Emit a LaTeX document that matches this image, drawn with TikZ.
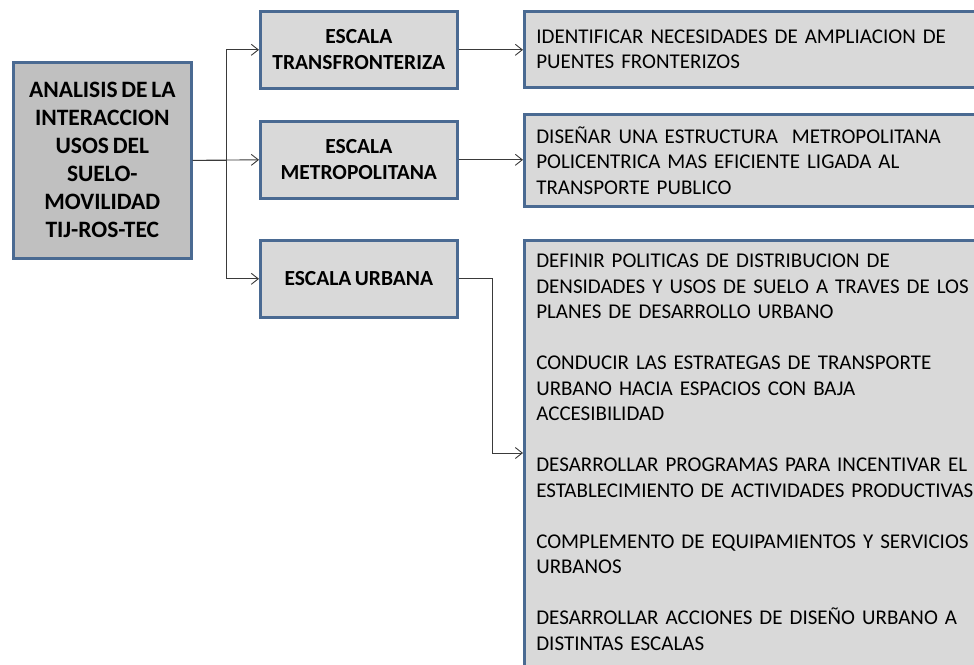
\documentclass[tikz,border=0pt]{standalone}
\usepackage{fontspec}
\setmainfont{Carlito}[WordSpace=0.7]
\usetikzlibrary{arrows.meta,positioning}
\definecolor{frame}{HTML}{4A6A92}
\definecolor{lightgray}{HTML}{D9D9D9}
\definecolor{midgray}{HTML}{C0C0C0}
\definecolor{wire}{HTML}{3A3A3A}
\tikzset{
  box/.style={draw=frame, line width=2.6pt, inner sep=0pt, anchor=north west},
  main/.style={box, fill=midgray, align=center, font=\bfseries\fontsize{23.5}{28}\selectfont, minimum width=178pt, minimum height=196pt},
  levelbox/.style={box, fill=lightgray, align=center, font=\bfseries\fontsize{21.5}{26}\selectfont, minimum width=197pt, minimum height=77pt},
  goal/.style={box, fill=lightgray, align=left, font=\fontsize{21}{25.5}\selectfont, inner xsep=12pt, text width=500pt},
  arrow/.style={-{Straight Barb[length=7pt,width=11pt]}, line width=0.9pt, draw=wire}
}
\begin{document}
\begin{tikzpicture}[x=1pt,y=-1pt]
\useasboundingbox (0,0) rectangle (974,664);
\clip (0,0) rectangle (974,664);
\node[main] (main) at (12,61) {ANALISIS DE LA\\INTERACCION\\USOS DEL\\SUELO-\\MOVILIDAD\\TIJ-ROS-TEC};
\node[levelbox] (trans) at (259,10) {ESCALA\\TRANSFRONTERIZA};
\node[levelbox] (metro) at (259,120) {ESCALA\\METROPOLITANA};
\node[levelbox] (urb) at (259,239) {ESCALA URBANA};
\node[goal, minimum height=76pt] (puentes) at (523,10) {IDENTIFICAR NECESIDADES DE AMPLIACION DE\\PUENTES FRONTERIZOS};
\node[goal, minimum height=92pt] (estruc) at (523,113) {DISEÑAR UNA ESTRUCTURA \ METROPOLITANA\\POLICENTRICA MAS EFICIENTE LIGADA AL\\TRANSPORTE PUBLICO};
\node[goal, inner ysep=14pt] (acciones) at (523,239) {DEFINIR POLITICAS DE DISTRIBUCION DE\\DENSIDADES Y USOS DE SUELO A TRAVES DE LOS\\PLANES DE DESARROLLO URBANO\\[25.5pt]
CONDUCIR LAS ESTRATEGAS DE TRANSPORTE\\URBANO HACIA ESPACIOS CON BAJA\\ACCESIBILIDAD\\[25.5pt]
DESARROLLAR PROGRAMAS PARA INCENTIVAR EL\\ESTABLECIMIENTO DE ACTIVIDADES PRODUCTIVAS\\[25.5pt]
COMPLEMENTO DE EQUIPAMIENTOS Y SERVICIOS\\URBANOS\\[25.5pt]
DESARROLLAR ACCIONES DE DISEÑO URBANO A\\DISTINTAS ESCALAS\\\rule{0pt}{20pt}};
\coordinate (urbin) at (523,453);
% branches
\draw[arrow] (main.east) -- ++(34,0) |- (trans.west);
\draw[arrow] (main.east) -- (metro.west);
\draw[arrow] (main.east) -- ++(34,0) |- (urb.west);
\draw[arrow] (trans.east) -- (trans.east -| puentes.west);
\draw[arrow] (metro.east) -- (metro.east -| estruc.west);
\draw[arrow] (urb.east) -- ++(34,0) |- (urbin);
\end{tikzpicture}
\end{document}
